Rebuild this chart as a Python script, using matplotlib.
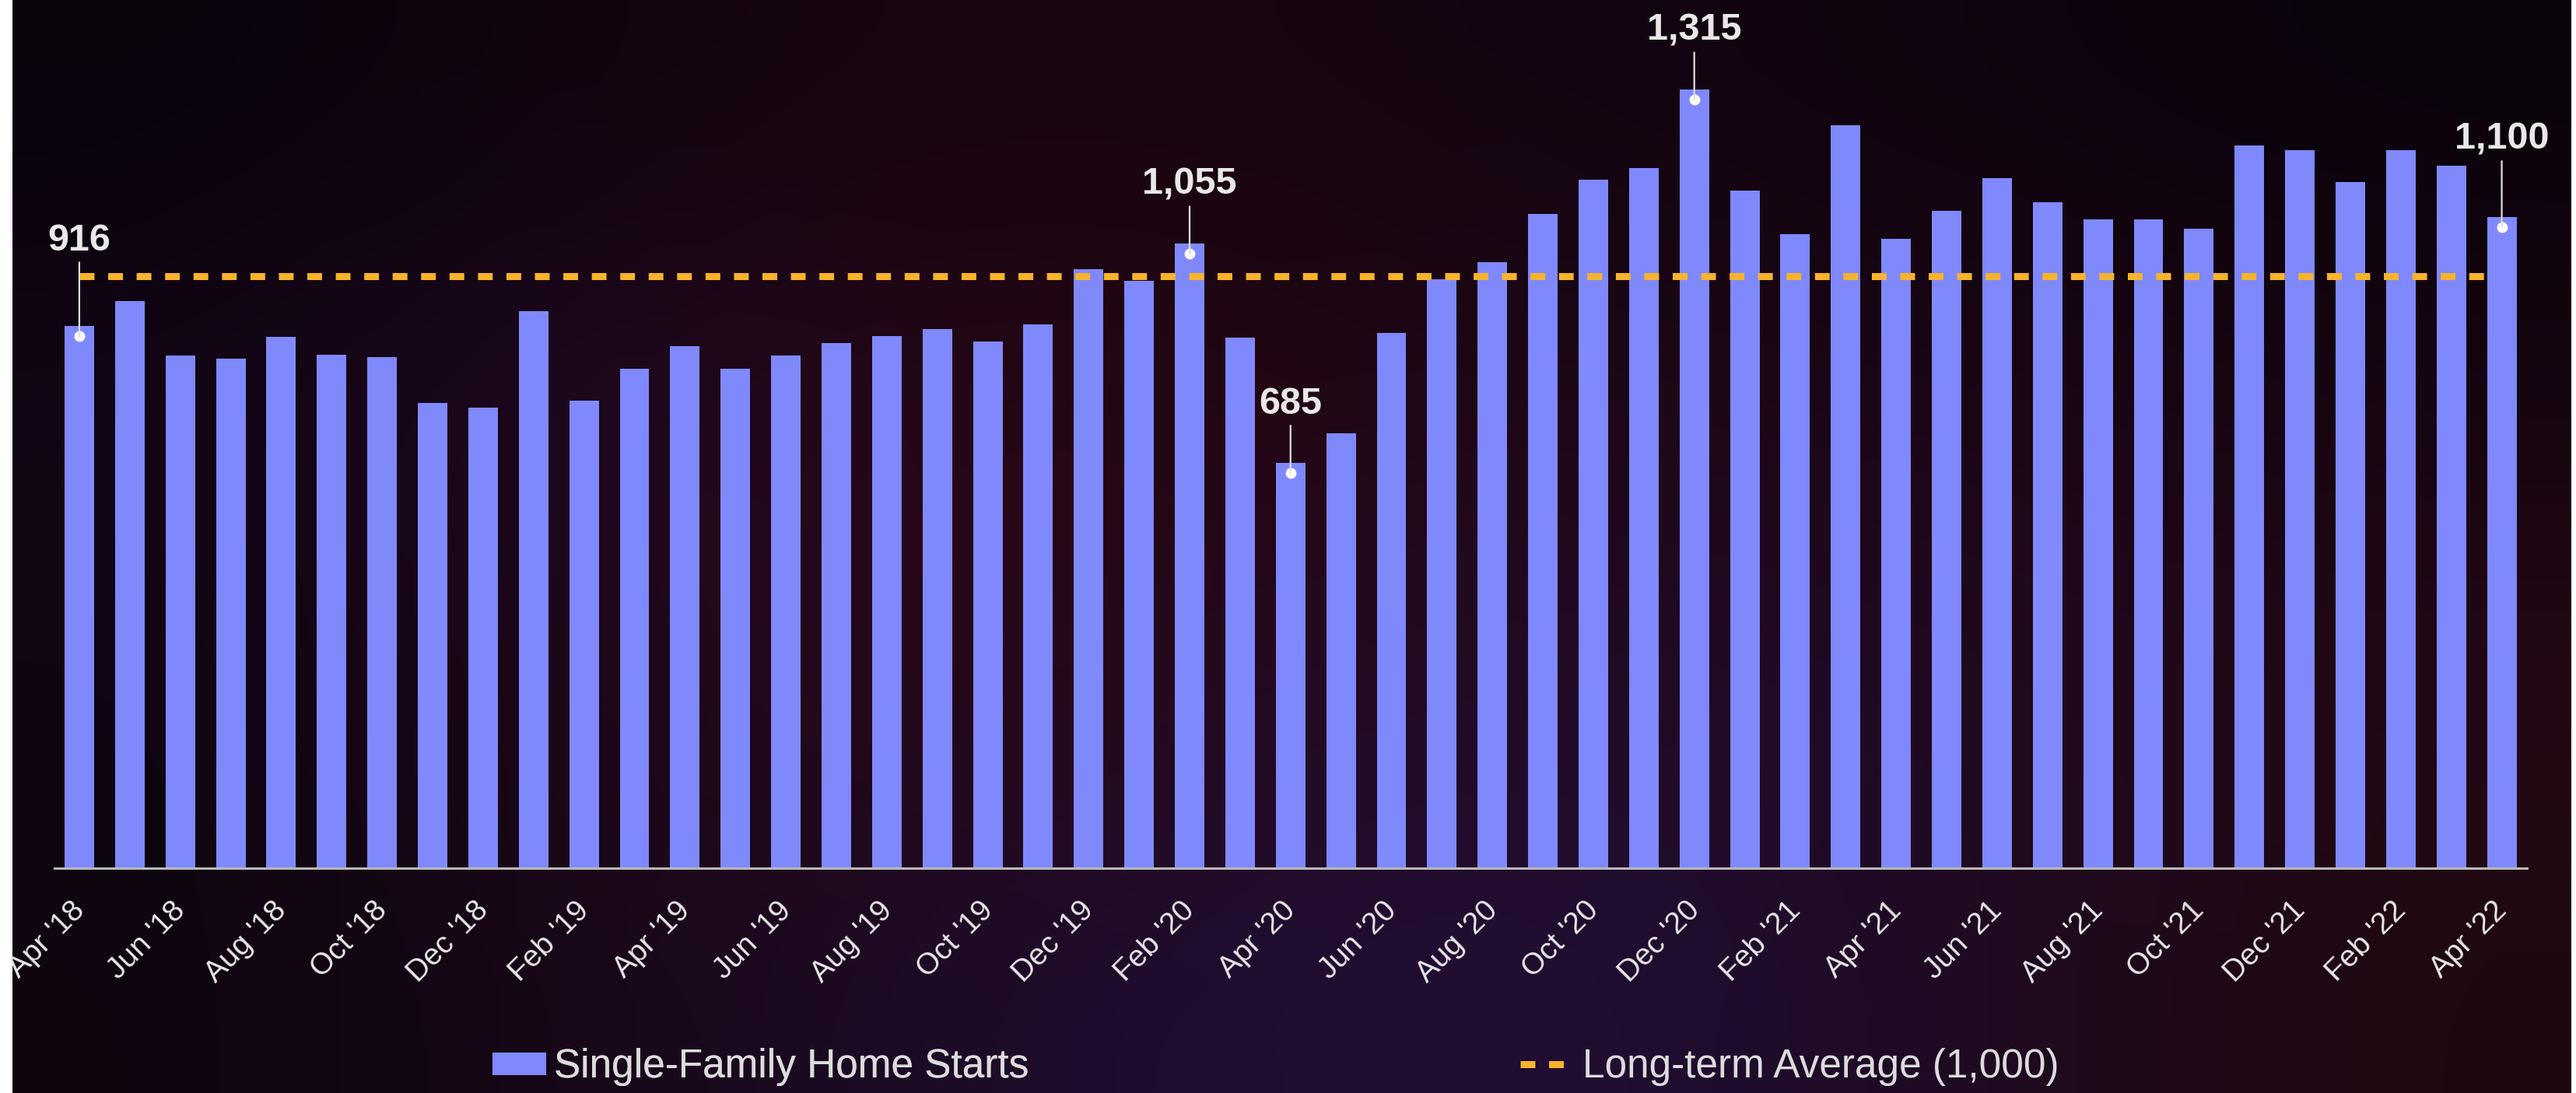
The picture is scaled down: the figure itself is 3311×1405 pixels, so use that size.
import numpy as np
import pandas as pd
import matplotlib
matplotlib.use("Agg")
import matplotlib.pyplot as plt
from matplotlib.transforms import offset_copy, ScaledTranslation

plt.rcParams["font.family"] = ["Liberation Sans", "DejaVu Sans"]

# monthly single-family starts (thousands, SAAR), Apr 2018 - Apr 2022
months = pd.date_range("2018-04-01", "2022-04-01", freq="MS")
month_labels = [m.strftime("%b '%y") for m in months]
starts = [916, 958, 865, 861, 897, 867, 863, 786, 777, 941,
          789, 843, 881, 843, 865, 887, 898, 910, 889, 918,
          1012, 992, 1055, 896, 685, 734, 904, 995, 1023, 1105,
          1162, 1182, 1315, 1144, 1070, 1255, 1062, 1110, 1165, 1124,
          1096, 1095, 1080, 1220, 1212, 1158, 1213, 1186, 1100]
long_term_avg = 1000

# bars that get a callout, and how high the callout sits (px above the bar)
callouts = [0, 22, 24, 32, 48]
callout_lift = [97, 63, 63, 63, 87]

BAR = "#8089fc"
AVG = "#f7b32b"
TXT = "#e8e8e8"
BAR_W = 0.585

W, H = 3311, 1405
fig = plt.figure(figsize=(W / 100, H / 100), dpi=100, facecolor="white")

# dark backdrop
bg = fig.add_axes([16 / W, 0, (3305 - 16) / W, 1], zorder=0)
bg_grid = np.array([
    [[8, 3, 12], [20, 5, 15], [25, 5, 15], [20, 5, 18], [15, 4, 15], [10, 3, 12]],
    [[20, 5, 22], [34, 10, 40], [42, 6, 15], [30, 8, 25], [30, 6, 20], [22, 5, 18]],
    [[14, 5, 18], [34, 8, 26], [40, 8, 20], [34, 12, 42], [32, 10, 36], [36, 8, 20]],
    [[14, 5, 15], [26, 8, 26], [30, 12, 46], [34, 15, 56], [30, 10, 36], [30, 8, 15]],
]) / 255.0
bg.imshow(bg_grid, aspect="auto", interpolation="bicubic", extent=[0, 1, 0, 1])
bg.set_axis_off()

x0, x1 = 69.5, 3248
y0 = H - 1116
px_per_unit = 0.7613
ymax = 1450
ax = fig.add_axes([x0 / W, y0 / H, (x1 - x0) / W, ymax * px_per_unit / H], zorder=1)
ax.patch.set_alpha(0)

x = np.arange(len(starts))
ax.bar(x, starts, width=BAR_W, color=BAR, zorder=2, label="Single-Family Home Starts")
avg_line, = ax.plot([x[0], x[-1] - BAR_W / 2], [long_term_avg, long_term_avg], color=AVG,
                    lw=6.5, linestyle=(0, (2.1, 1.95)), solid_capstyle="butt",
                    dash_capstyle="butt", zorder=3, label="Long-term Average (1,000)")

ax.set_xlim(-0.5, len(starts) - 0.5)
ax.set_ylim(0, ymax)
for side in ["top", "left", "right"]:
    ax.spines[side].set_visible(False)
ax.spines["bottom"].set_color("#b8b8b8")
ax.spines["bottom"].set_linewidth(2.2)
ax.spines["bottom"].set_zorder(4)
ax.set_yticks([])
ax.set_xticks(x[::2])
ax.set_xticklabels(month_labels[::2], rotation=45, ha="right", va="top",
                   fontsize=28, color=TXT)
ax.tick_params(axis="x", length=0, pad=26)
shift = ScaledTranslation(14 / 100, 0, fig.dpi_scale_trans)
for lab in ax.get_xticklabels():
    lab.set_transform(lab.get_transform() + shift)

# callouts: dot a little below the bar top, thin leader up to the value
dot_trans = offset_copy(ax.transData, fig=fig, x=0, y=-13, units="dots")
for i, lift in zip(callouts, callout_lift):
    v = starts[i]
    ax.plot(i, v, "o", color="white", markersize=10, markeredgewidth=0,
            transform=dot_trans, zorder=5)
    ax.annotate(f"{v:,}", xy=(i, v), xycoords=dot_trans,
                xytext=(0, lift + 13), textcoords="offset pixels",
                ha="center", va="baseline", fontsize=35, fontweight="bold", color=TXT,
                arrowprops=dict(arrowstyle="-", color="#e0e0e0", lw=1.6,
                                shrinkA=2, shrinkB=0),
                zorder=5)

leg_kw = dict(frameon=False, borderpad=0, borderaxespad=0, fontsize=37,
              labelcolor="#dcdcdc", loc="center left")
bars_handle = ax.containers[0]
leg1 = fig.legend([bars_handle], ["Single-Family Home Starts"],
                  bbox_to_anchor=(633 / W, 33 / H), handlelength=69 / 51.4,
                  handleheight=26 / 51.4, handletextpad=10 / 51.4, **leg_kw)
leg2 = fig.legend([avg_line], ["Long-term Average (1,000)"],
                  bbox_to_anchor=(1954 / W, 33 / H), handlelength=56 / 51.4,
                  handletextpad=24 / 51.4, **leg_kw)
fig.add_artist(leg1)

fig.savefig("out.png", dpi=100, facecolor="white")
